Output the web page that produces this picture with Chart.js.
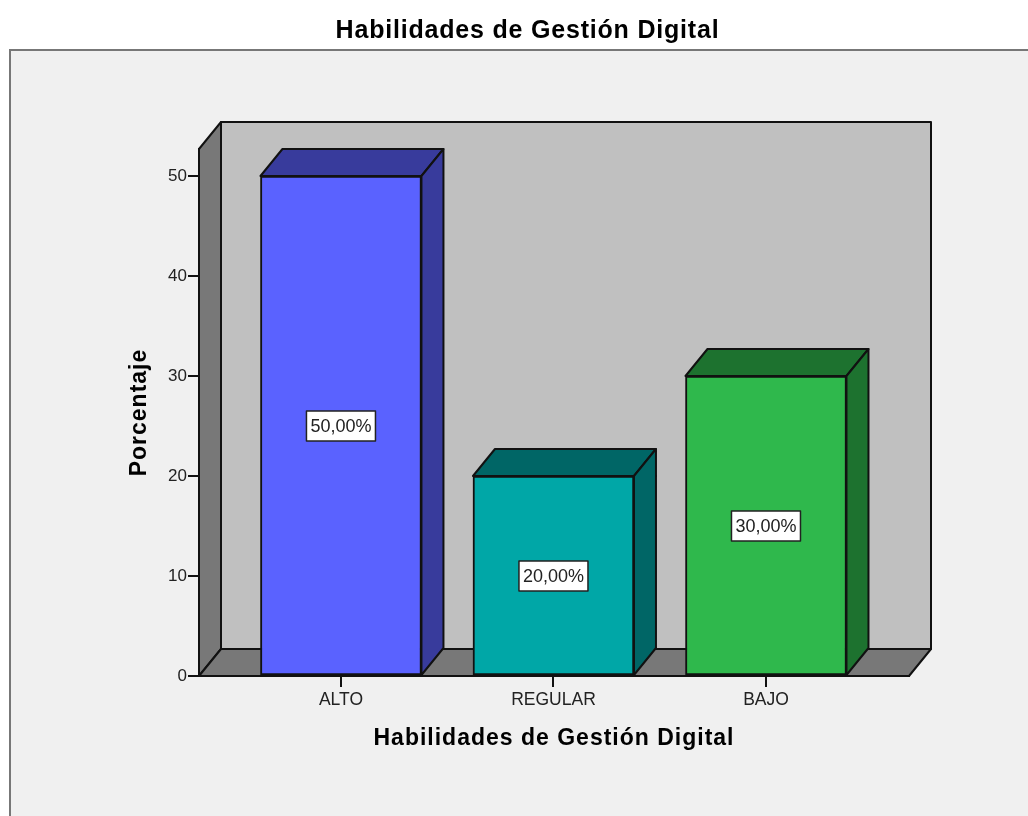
<!DOCTYPE html>
<html><head><meta charset="utf-8">
<style>html,body{margin:0;padding:0;background:#fff}canvas{display:block}</style>
<script src="https://cdn.jsdelivr.net/npm/chart.js@4/dist/chart.umd.min.js"></script>
</head><body>
<div style="width:1028px;height:816px"><canvas id="c" width="1028" height="816"></canvas></div>
<script>
const categories = ['ALTO', 'REGULAR', 'BAJO'];
const percentages = [50, 20, 30];
const valueLabels = ['50,00%', '20,00%', '30,00%'];
const frontColors = ['#5a62ff', '#00a7a7', '#2fb84c'];
const shadeColors = ['#383b9c', '#006666', '#1d722f'];
const chartTitle = 'Habilidades de Gestión Digital';
const yTitle = 'Porcentaje';
const FONT = '"Liberation Sans", Arial, sans-serif';
const DX = 22, DY = -27, LINE = '#111111';

function poly(ctx, pts, fill) {
  ctx.beginPath();
  pts.forEach((p, i) => i ? ctx.lineTo(p[0], p[1]) : ctx.moveTo(p[0], p[1]));
  ctx.closePath();
  ctx.fillStyle = fill; ctx.fill();
  ctx.strokeStyle = LINE; ctx.lineWidth = 2; ctx.lineJoin = 'round'; ctx.stroke();
}
function spaced(obj, ctx, px, method) {
  if (obj['_sp' + method]) return;
  obj['_sp' + method] = true;
  const orig = obj[method];
  obj[method] = function () {
    ctx.save();
    ctx.letterSpacing = px;
    orig.apply(this, arguments);
    ctx.restore();
  };
}
const scene = {
  id: 'scene',
  afterLayout(chart) {
    spaced(chart.titleBlock, chart.ctx, '0.8px', 'draw');
    spaced(chart.scales.x, chart.ctx, '1px', 'drawTitle');
    spaced(chart.scales.y, chart.ctx, '1px', 'drawTitle');
  },
  beforeDraw(chart) {
    const ctx = chart.ctx, a = chart.chartArea;
    ctx.save();
    ctx.fillStyle = '#f0f0f0'; ctx.fillRect(10, 50, 1030, 780);
    ctx.strokeStyle = '#777777'; ctx.lineWidth = 2;
    ctx.strokeRect(10, 50, 1040, 800);
    const L = a.left, R = a.right, T = a.top, B = a.bottom;
    poly(ctx, [[L + DX, T + DY], [R + DX, T + DY], [R + DX, B + DY], [L + DX, B + DY]], '#c0c0c0');
    poly(ctx, [[L, T], [L + DX, T + DY], [L + DX, B + DY], [L, B]], '#787878');
    poly(ctx, [[L, B], [L + DX, B + DY], [R + DX, B + DY], [R, B]], '#787878');
    ctx.restore();
  },
  afterDatasetsDraw(chart) {
    const ctx = chart.ctx;
    ctx.save();
    chart.getDatasetMeta(0).data.forEach((bar, i) => {
      const l = bar.x - bar.width / 2, r = bar.x + bar.width / 2, t = bar.y, b = bar.base;
      poly(ctx, [[l, t], [l + DX, t + DY], [r + DX, t + DY], [r, t]], shadeColors[i]);
      poly(ctx, [[r, t], [r + DX, t + DY], [r + DX, b + DY], [r, b]], shadeColors[i]);
      const cx = bar.x, cy = (t + b) / 2 + 0.5, w = 69, h = 30;
      ctx.fillStyle = '#ffffff'; ctx.fillRect(cx - w / 2, cy - h / 2, w, h);
      ctx.strokeStyle = '#222222'; ctx.lineWidth = 1.5; ctx.strokeRect(cx - w / 2, cy - h / 2, w, h);
      ctx.fillStyle = '#222222'; ctx.font = '18px ' + FONT;
      ctx.textAlign = 'center'; ctx.textBaseline = 'middle';
      ctx.fillText(valueLabels[i], cx, cy + 1);
    });
    ctx.restore();
  }
};

new Chart(document.getElementById('c'), {
  type: 'bar',
  data: { datasets: [{
    data: percentages.map((v, i) => ({ x: i, y: v })),
    backgroundColor: frontColors, borderColor: LINE, borderWidth: 2,
    borderSkipped: false, barThickness: 161
  }] },
  plugins: [scene],
  options: {
    responsive: false, animation: false,
    layout: { padding: { left: 27, right: 0, top: 0, bottom: 0 } },
    plugins: {
      legend: { display: false }, tooltip: { enabled: false },
      title: { display: true, text: chartTitle, color: '#000', align: 'center',
        font: { family: FONT, size: 25, weight: 'bold', lineHeight: 1.2 },
        padding: { top: 16, bottom: 103 } }
    },
    scales: {
      x: { type: 'linear', min: -0.668, max: 2.673, offset: false,
        afterBuildTicks(s) { s.ticks = categories.map((_, i) => ({ value: i })); },
        afterFit(s) { s.height = 140; },
        grid: { offset: false, drawOnChartArea: false, drawTicks: true, tickLength: 11, color: LINE, lineWidth: 2 },
        border: { color: LINE, width: 2 },
        ticks: { autoSkip: false, maxRotation: 0, padding: 3, color: '#222', font: { family: FONT, size: 17.5 },
          callback: v => categories[v] },
        title: { display: true, text: chartTitle, color: '#000', font: { family: FONT, size: 23, weight: 'bold', lineHeight: 1.2 },
          padding: { top: 0, bottom: 64 } } },
      y: { type: 'linear', min: 0, max: 52.7,
        afterFit(s) { s.width = 172; },
        grid: { drawOnChartArea: false, tickLength: 11, color: LINE, lineWidth: 2 },
        border: { color: LINE, width: 2 },
        ticks: { stepSize: 10, includeBounds: false, padding: 1, color: '#222', font: { family: FONT, size: 17 } },
        title: { display: true, text: yTitle, color: '#000', font: { family: FONT, size: 23, weight: 'bold', lineHeight: 1.2 },
          padding: { top: 99, bottom: 0 } } },
      spacer: { type: 'linear', position: 'right', display: true,
        afterFit(s) { s.width = 119; },
        grid: { display: false }, border: { display: false },
        ticks: { display: false } }
    }
  }
});
</script>
</body></html>
